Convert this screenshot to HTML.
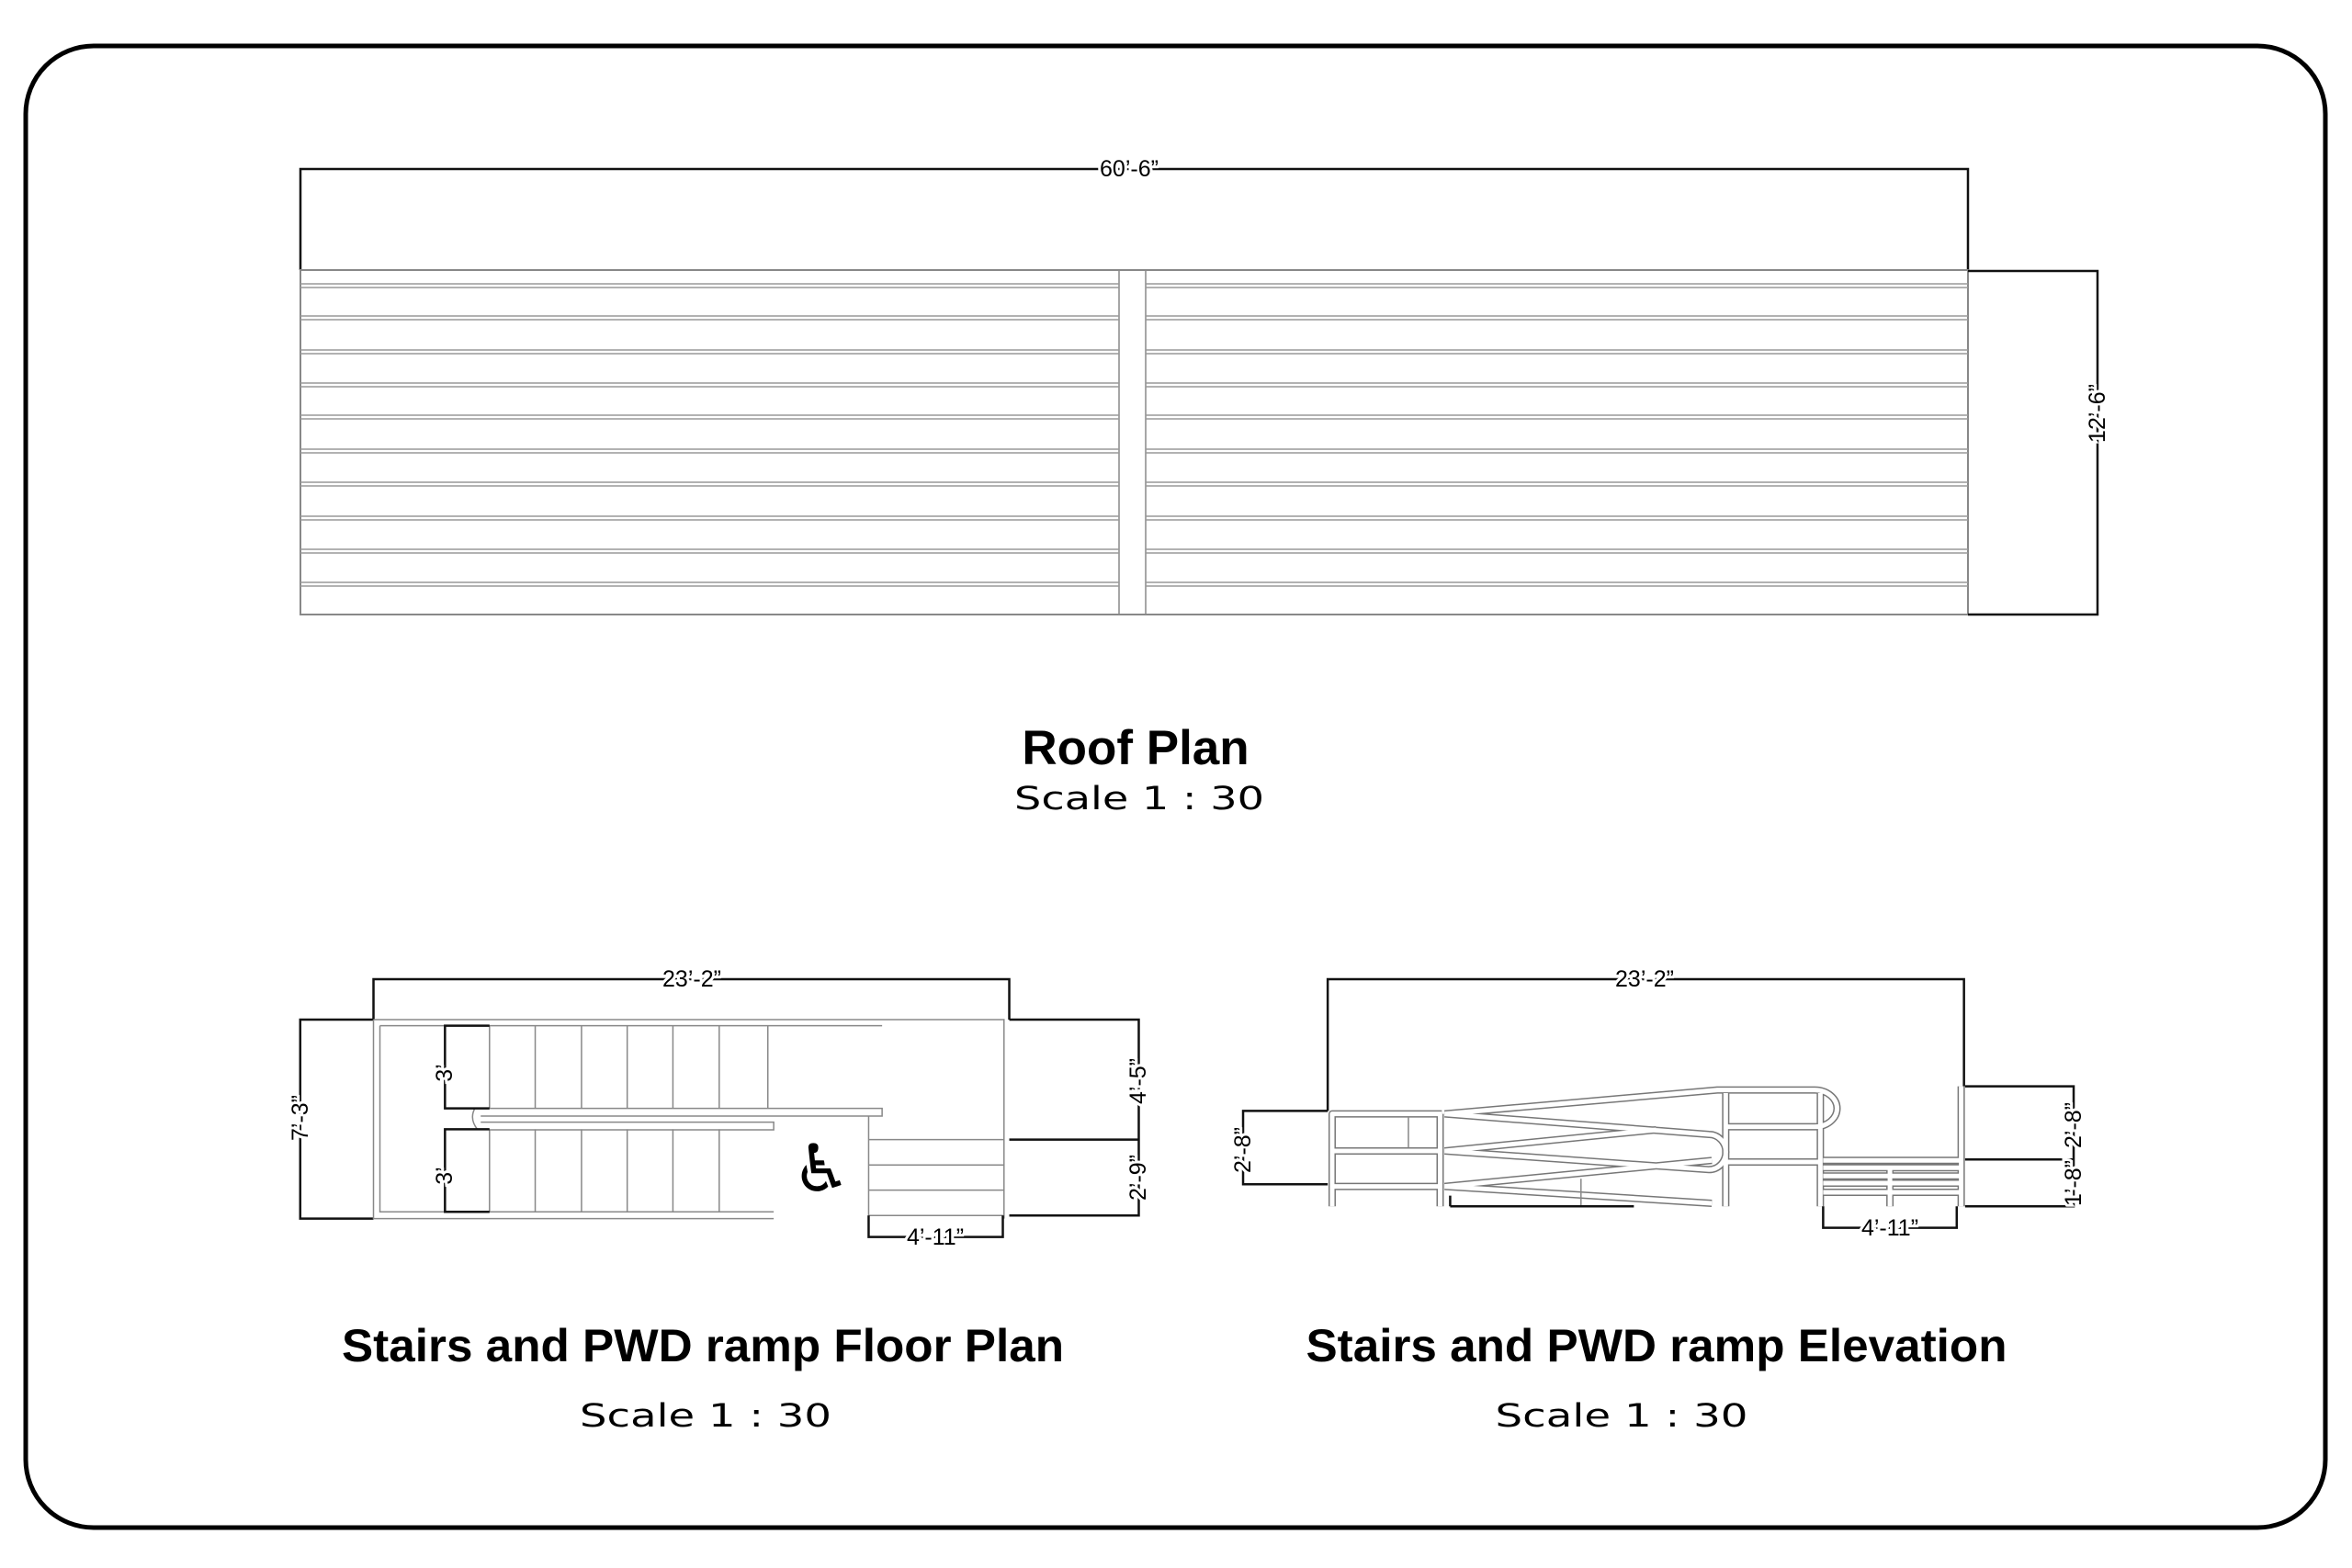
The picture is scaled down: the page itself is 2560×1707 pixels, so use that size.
<!DOCTYPE html>
<html><head><meta charset="utf-8"><style>
html,body{margin:0;padding:0;background:#fff;}
svg{display:block;}
text{font-family:"Liberation Sans",sans-serif;fill:#000;}
.d{font-size:25px;stroke:#fff;stroke-width:6px;paint-order:stroke;text-anchor:middle;dominant-baseline:central;}
.s{font-family:"DejaVu Sans",sans-serif;font-size:35px;text-anchor:middle;}
.g{fill:none;stroke:#888;stroke-width:1.5;vector-effect:non-scaling-stroke;}
.k{fill:none;stroke:#111;stroke-width:2.5;vector-effect:non-scaling-stroke;}
.to{fill:none;stroke:#777;stroke-width:8;vector-effect:non-scaling-stroke;stroke-linejoin:round;}
.ti{fill:none;stroke:#fff;stroke-width:5;vector-effect:non-scaling-stroke;stroke-linejoin:round;}
</style></head><body>
<svg width="2560" height="1707" viewBox="0 0 2560 1707" xmlns="http://www.w3.org/2000/svg">
<rect x="28" y="50" width="2503" height="1613" rx="74" ry="74" fill="none" stroke="#000" stroke-width="5"/>

<!-- ROOF -->
<path d="M327,294 V184 H2142 V294" fill="none" stroke="#111" stroke-width="2.5"/>
<text class="d" x="1229" y="184">60’-6”</text>
<rect x="327" y="294" width="1815" height="375" fill="none" stroke="#888" stroke-width="2"/>
<g stroke="#888" stroke-width="1.5">
<line x1="1218" y1="294" x2="1218" y2="669"/><line x1="1247" y1="294" x2="1247" y2="669"/>
</g>
<g stroke="#999" stroke-width="1.5">
<path d="M327,309H1218M1247,309H2142M327,313H1218M1247,313H2142
M327,344H1218M1247,344H2142M327,348H1218M1247,348H2142
M327,381H1218M1247,381H2142M327,385H1218M1247,385H2142
M327,417H1218M1247,417H2142M327,421H1218M1247,421H2142
M327,452H1218M1247,452H2142M327,456H1218M1247,456H2142
M327,489H1218M1247,489H2142M327,493H1218M1247,493H2142
M327,525H1218M1247,525H2142M327,529H1218M1247,529H2142
M327,562H1218M1247,562H2142M327,566H1218M1247,566H2142
M327,598H1218M1247,598H2142M327,602H1218M1247,602H2142
M327,634H1218M1247,634H2142M327,638H1218M1247,638H2142"/>
</g>
<path d="M2142,295 H2283 V669 H2142" fill="none" stroke="#111" stroke-width="2.5"/>
<text class="d" transform="translate(2283,450) rotate(-90)">12’-6”</text>

<text x="1236" y="832" font-size="53" font-weight="bold" text-anchor="middle">Roof Plan</text>
<text class="s" x="1240" y="881" textLength="272" lengthAdjust="spacingAndGlyphs">Scale 1 : 30</text>

<!-- FLOOR PLAN -->
<g transform="translate(300,1050) scale(0.6378,0.3333)">
<path class="k" d="M167,180 V48 H1252 V180"/>
<path class="k" d="M167,180 H42 V830 H167"/>
<path class="g" d="M167,180 H1243 V830 M167,180 V830 H850"/>
<path class="g" d="M178,200 V808 H850 M178,200 H1035"/>
<path class="g" d="M365,200 V470 M443,200 V470 M522,200 V470 M600,200 V470 M678,200 V470 M757,200 V470 M840,200 V470"/>
<path class="g" d="M365,538 V808 M443,538 V808 M522,538 V808 M600,538 V808 M678,538 V808 M757,538 V808"/>
<path class="g" d="M365,470 H1035 V495 H350 M350,515 H850 V540 H365 M340,470 Q330,505 345,540"/>
<path class="g" d="M1012,495 V820 H1243 M1012,572 H1243 M1012,655 H1243 M1012,737 H1243"/>
<path class="k" d="M365,200 H289 V470 H365 M365,538 H289 V808 H365"/>
<path class="k" d="M1252,180 H1473 V820 H1252 M1252,572 H1473"/>
<path class="k" d="M1012,820 V890 H1241 V820"/>
</g>
<text class="d" x="753" y="1066">23’-2”</text>
<text class="d" transform="translate(327,1217) rotate(-90)">7’-3”</text>
<text class="d" transform="translate(484,1168) rotate(-90)">3’</text>
<text class="d" transform="translate(484,1280) rotate(-90)">3’</text>
<text class="d" transform="translate(1239,1177) rotate(-90)">4’-5”</text>
<text class="d" transform="translate(1239,1282) rotate(-90)">2’-9”</text>
<text class="d" x="1018" y="1347">4’-11”</text>
<text x="894" y="1272" font-size="72" font-weight="bold" text-anchor="middle" dominant-baseline="central" style="font-family:'DejaVu Sans',sans-serif">♿</text>

<!-- ELEVATION -->
<g transform="translate(1330,1050) scale(0.6059,0.3333)">
<path class="k" d="M190,478 V48 H1333 V398"/>
<path class="k" d="M190,478 H38 V718 H190"/>
<g>
<path class="to" d="M198,790 V488 H395 M198,609 H395 M198,725 H395 M392,488 V790 M400,488 L890,410 H1065 A40,60 0 0 1 1065,530 H905 M400,488 L875,555 A30,57 0 0 1 875,670 L400,609 M400,609 L780,540 M400,725 L880,640 M400,725 L880,780 M905,420 V790 M1075,420 V790 M905,645 H1075 M1080,640 H1325 M1080,664 H1325 M1080,691 H1325 M1080,714 H1325 M1080,744 H1325 M1200,664 V790 M1328,398 V790"/>
<path class="ti" d="M198,790 V488 H395 M198,609 H395 M198,725 H395 M392,488 V790 M400,488 L890,410 H1065 A40,60 0 0 1 1065,530 H905 M400,488 L875,555 A30,57 0 0 1 875,670 L400,609 M400,609 L780,540 M400,725 L880,640 M400,725 L880,780 M905,420 V790 M1075,420 V790 M905,645 H1075 M1080,640 H1325 M1080,664 H1325 M1080,691 H1325 M1080,714 H1325 M1080,744 H1325 M1200,664 V790 M1328,398 V790"/>
</g>
<path class="g" d="M335,498 V598 M645,700 V790"/>
<path class="k" d="M410,790 H740 M410,755 V790"/>
<path class="k" d="M1335,398 H1530 V790 H1335 M1335,637 H1530"/>
<path class="k" d="M1080,790 V860 H1320 V790"/>
</g>
<text class="d" x="1790" y="1066">23’-2”</text>
<text class="d" transform="translate(1353,1252) rotate(-90)">2’-8”</text>
<text class="d" transform="translate(2257,1225) rotate(-90)">2’-8”</text>
<text class="d" transform="translate(2257,1288) rotate(-90)">1’-8”</text>
<text class="d" x="2057" y="1337">4’-11”</text>

<text x="765" y="1482" font-size="50" font-weight="bold" text-anchor="middle" textLength="786" lengthAdjust="spacingAndGlyphs">Stairs and PWD ramp Floor Plan</text>
<text class="s" x="768" y="1553" textLength="274" lengthAdjust="spacingAndGlyphs">Scale 1 : 30</text>
<text x="1803" y="1482" font-size="50" font-weight="bold" text-anchor="middle" textLength="763" lengthAdjust="spacingAndGlyphs">Stairs and PWD ramp Elevation</text>
<text class="s" x="1765" y="1553" textLength="275" lengthAdjust="spacingAndGlyphs">Scale 1 : 30</text>
</svg>
</body></html>
